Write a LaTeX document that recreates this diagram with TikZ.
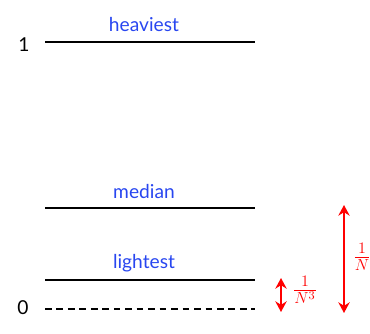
\documentclass[tikz,border=0pt]{standalone}
\usepackage{fontspec}
\setmainfont{Lato}
\usetikzlibrary{arrows.meta,positioning}
\definecolor{labelblue}{RGB}{40, 70, 240}
\definecolor{gapred}{RGB}{255, 0, 0}
\tikzset{
  level/.style={line width=1.9pt},
  levelname/.style={text=labelblue},
  gap/.style={gapred, line width=1.9pt, {Stealth[length=8pt,width=8.5pt]}-{Stealth[length=8pt,width=8.5pt]}},
  gapname/.style={text=gapred, font=\fontsize{18}{20}\selectfont},
}
\begin{document}
\begin{tikzpicture}[x=0.75pt, y=-0.75pt, every node/.style={font=\Large}]
        \useasboundingbox (0,0) rectangle (370,333);
        \foreach \y/\name/\label in {
          42/heavy/heaviest,
          208/med/median,
          280/light/lightest
        }{
          \draw[level] (45,\y) coordinate (\name-l) -- (255,\y) coordinate (\name-r);
          \node[levelname] (\name) at (144,\y-17) {\label};
        }
        % zero line and axis marks
        \draw[level, dash pattern=on 5pt off 3.6pt] (45,309) coordinate (zero-l) -- (255,309) coordinate (zero-r);
        \node (one) at (24,45) {1};
        \node (nil) at (23,308) {0};
        % gaps
        \coordinate (small-top) at (281,278);
        \coordinate (small-bot) at (281,312);
        \coordinate (big-top) at (344,205);
        \coordinate (big-bot) at (344,313);
        \draw[gap] (small-bot) -- (small-top);
        \draw[gap] (big-bot) -- (big-top);
        \node[gapname] (cube) at (305,290) {$\frac{1}{N^3}$};
        \node[gapname] (inv) at (362,257) {$\frac{1}{N}$};
      \end{tikzpicture}
\end{document}
